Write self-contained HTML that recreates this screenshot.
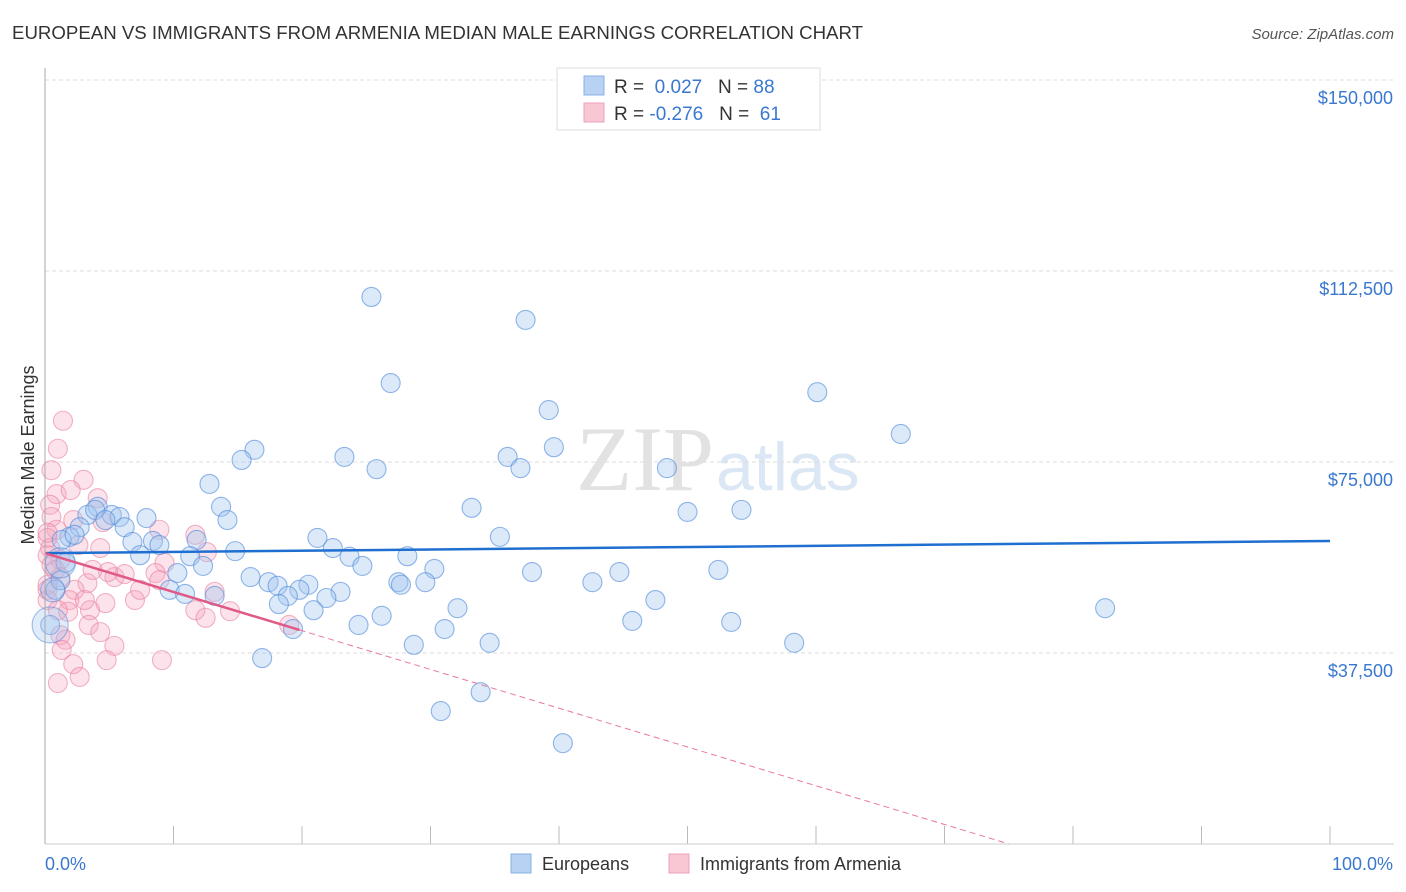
<!DOCTYPE html>
<html><head><meta charset="utf-8"><style>
body{margin:0;background:#fff;font-family:"Liberation Sans",sans-serif;}
svg{display:block}
</style></head><body>
<svg id="chart" width="1406" height="892">
<text x="12" y="39" font-size="18" fill="#333" textLength="851" lengthAdjust="spacingAndGlyphs">EUROPEAN VS IMMIGRANTS FROM ARMENIA MEDIAN MALE EARNINGS CORRELATION CHART</text>
<text x="1394" y="39" font-size="15" fill="#555" font-style="italic" text-anchor="end">Source: ZipAtlas.com</text>
<text x="34" y="455" font-size="18" fill="#333" text-anchor="middle" transform="rotate(-90 34 455)">Median Male Earnings</text>
<text x="714" y="490" font-size="92" fill="#e2e2e2" text-anchor="end" font-family="Liberation Serif,serif">ZIP</text>
<text x="716" y="490" font-size="68" fill="#dbe7f5">atlas</text>
<g id="grid"></g><g id="pts"></g><g id="lines"></g>
<line x1="45" y1="68" x2="45" y2="844" stroke="#aaa"/>
<line x1="45" y1="844" x2="1394" y2="844" stroke="#ccc"/>
<text x="45" y="870" font-size="18" fill="#3a78d0">0.0%</text>
<text x="1393" y="870" font-size="18" fill="#3a78d0" text-anchor="end">100.0%</text>
<g>
<rect x="557" y="68" width="263" height="62" fill="#fff" stroke="#ddd"/>
<rect x="584" y="76" width="20" height="19" fill="#b8d2f4" stroke="#8ab0e6"/>
<rect x="584" y="103" width="20" height="19" fill="#f9c6d4" stroke="#eea2b8"/>
<text x="614" y="93" font-size="19" fill="#333">R = <tspan fill="#3a78d0">&#160;0.027</tspan>&#160;&#160;&#160;N = <tspan fill="#3a78d0">88</tspan></text>
<text x="614" y="120" font-size="19" fill="#333">R = <tspan fill="#3a78d0">-0.276</tspan>&#160;&#160;&#160;N = <tspan fill="#3a78d0">&#160;61</tspan></text>
</g>
<g>
<rect x="511" y="854" width="20" height="19" fill="#b8d2f4" stroke="#8ab0e6"/>
<text x="542" y="870" font-size="18" fill="#333">Europeans</text>
<rect x="669" y="854" width="20" height="19" fill="#f9c6d4" stroke="#eea2b8"/>
<text x="700" y="870" font-size="18" fill="#333">Immigrants from Armenia</text>
</g>
</svg>
<script>
const yTicks=[37500,75000,112500,150000];
const yTickLabels=["$37,500","$75,000","$112,500","$150,000"];
const xTicks=[0,10,20,30,40,50,60,70,80,90,100];
const blueX=[25.4,37.4,26.9,60.1,39.2,66.6,39.6,16.3,15.3,23.3,36.0,25.8,37.0,48.4,12.8,13.7,33.2,50.0,54.2,4.1,3.3,5.2,5.8,7.9,14.2,2.7,6.2,35.4,21.2,1.9,8.4,6.8,8.9,11.8,22.4,14.8,7.4,11.3,23.7,28.2,24.7,12.3,10.3,37.9,44.7,52.4,30.3,16.0,17.4,18.1,27.5,29.6,27.7,42.6,20.5,19.8,9.7,10.9,18.9,13.2,23.0,21.9,18.2,32.1,47.5,82.5,20.9,26.2,45.7,53.4,24.4,31.1,19.3,34.6,58.3,28.7,16.9,33.9,30.8,40.3,0.4,0.8,1.2,1.6,1.3,2.3,3.9,4.7];
const blueY=[107.4,102.9,90.5,88.7,85.2,80.5,77.9,77.4,75.4,76.0,76.0,73.6,73.8,73.8,70.7,66.2,66.0,65.2,65.6,66.2,64.6,64.6,64.2,64.0,63.6,62.2,62.2,60.3,60.1,60.3,59.5,59.3,58.7,59.7,58.1,57.5,56.7,56.5,56.4,56.5,54.6,54.6,53.2,53.4,53.4,53.8,54.0,52.4,51.4,50.7,51.4,51.4,50.9,51.4,50.9,49.9,49.9,49.1,48.7,48.7,49.5,48.3,47.1,46.3,47.9,46.3,45.9,44.8,43.8,43.6,43.0,42.2,42.2,39.5,39.5,39.1,36.5,29.8,26.1,19.8,43.0,49.9,51.8,55.2,59.7,60.7,65.6,63.6];
const pinkX=[1.4,1.0,0.5,3.0,0.9,4.1,2.0,0.4,0.5,2.2,4.5,0.9,2.6,0.2,0.4,1.2,4.3,11.7,12.6,9.3,0.2,0.8,1.2,5.4,0.2,3.3,2.3,0.2,7.0,4.7,3.5,11.7,14.4,12.5,3.4,4.3,1.2,1.6,19.0,1.3,5.4,2.2,4.8,9.1,1.0,2.7,6.2,8.6,13.2,1.9,0.5,0.2,0.2,8.9,1.8,3.1,1.0,4.9,3.7,7.4,8.9];
const pinkY=[83.1,77.6,73.4,71.5,68.7,67.9,69.5,66.6,64.2,63.6,63.2,61.7,58.7,60.1,58.1,55.8,58.1,60.7,57.3,55.2,56.7,53.8,52.4,52.4,49.9,51.2,49.9,47.9,47.9,47.3,45.9,45.9,45.7,44.4,43.0,41.6,41.0,40.1,43.0,38.1,38.9,35.3,36.1,36.1,31.6,32.8,53.0,53.2,49.5,47.9,54.8,61.1,50.9,61.7,45.6,47.9,45.9,53.4,53.8,49.9,51.8];
const blueTrend=[57.1,59.5];
const pinkTrend=[57.1,-19.0];
const pinkSolidEnd=19.8;
const NS="http://www.w3.org/2000/svg";
const xs=p=>45+p*12.85;
const ys=v=>844-v*764/150000;
const yk=v=>ys(v*1000);
function mk(tag,attrs,parent){const e=document.createElementNS(NS,tag);for(const k in attrs)e.setAttribute(k,attrs[k]);parent.appendChild(e);return e;}
const grid=document.getElementById('grid');
yTicks.forEach((t,i)=>{
  const l=mk('line',{x1:45,x2:1394,y1:ys(t),y2:ys(t),stroke:'#ddd','stroke-dasharray':'4,3'},grid);
  
  
  const tx=mk('text',{x:1393,y:ys(t)+24,'font-size':18,fill:'#3a78d0','text-anchor':'end'},grid);
  tx.textContent=yTickLabels[i];
  
  
});
xTicks.forEach(t=>{
  const l=mk('line',{x1:xs(t),x2:xs(t),y1:826,y2:844,stroke:'#bbb'},grid);
  
  
});
const pts=document.getElementById('pts');
pinkX.forEach((x,i)=>{
  const c=mk('circle',{cx:xs(x),cy:yk(pinkY[i]),r:9.5,fill:'rgba(245,165,190,0.32)',stroke:'rgba(232,130,162,0.6)','stroke-width':1.1},pts);
  
  
});
blueX.forEach((x,i)=>{
  const c=mk('circle',{cx:xs(x),cy:yk(blueY[i]),r:9.5,fill:'rgba(160,196,240,0.38)',stroke:'rgba(80,138,218,0.62)','stroke-width':1.1},pts);
  
  
});
[[0.4,43.0,18],[1.2,55.2,15],[0.6,49.9,12]].forEach(b=>{
  const c=mk('circle',{cx:xs(b[0]),cy:yk(b[1]),r:b[2],fill:'rgba(160,196,240,0.32)',stroke:'rgba(80,138,218,0.55)','stroke-width':1.1},pts);
  
  
});
const lines=document.getElementById('lines');
const bl=mk('line',{x1:xs(0),y1:yk(blueTrend[0]),x2:xs(100),y2:yk(blueTrend[1]),stroke:'#1f6fd0','stroke-width':2.5},lines);


const pv=p=>pinkTrend[0]+(pinkTrend[1]-pinkTrend[0])*p/100;
const zeroP=pinkTrend[0]/(pinkTrend[0]-pinkTrend[1])*100;
const pd=mk('line',{x1:xs(pinkSolidEnd),y1:yk(pv(pinkSolidEnd)),x2:xs(zeroP),y2:yk(0),stroke:'#e8789c','stroke-width':1,'stroke-dasharray':'6,4'},lines);


const ps=mk('line',{x1:xs(0),y1:yk(pinkTrend[0]),x2:xs(pinkSolidEnd),y2:yk(pv(pinkSolidEnd)),stroke:'#e05a88','stroke-width':2.5},lines);


</script>
</body></html>
